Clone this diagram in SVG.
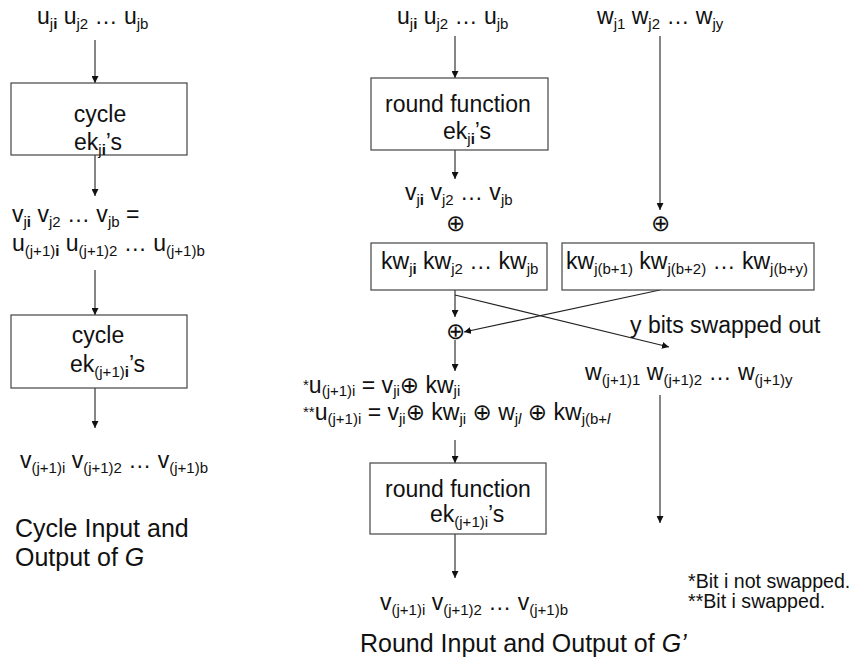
<svg xmlns="http://www.w3.org/2000/svg" width="856" height="662" viewBox="0 0 856 662">
  <style>
    text { font-family: "Liberation Sans", Arial, "DejaVu Sans", sans-serif; fill: #111; }
    .t { font-size: 23px; }
    .sb { font-size: 15px; }
    .b { font-weight: bold; }
    .it { font-style: italic; }
    .title { font-size: 25px; }
    .note { font-size: 19.6px; }
    .xor { font-family: "DejaVu Sans", sans-serif; font-size: 23px; font-weight: 200; }
    .box { fill: #fff; stroke: #444; stroke-width: 1.2; }
    .wire { stroke: #222; stroke-width: 1.1; fill: none; }
    .arr { marker-end: url(#head); }
  </style>
  <defs>
    <marker id="head" markerUnits="userSpaceOnUse" markerWidth="8" markerHeight="7" refX="7" refY="3.5" orient="auto">
      <path d="M0,0 L7,3.5 L0,7 z" fill="#111"/>
    </marker>
  </defs>
  <rect width="856" height="662" fill="#fff"/>

  <!-- connectors -->
  <g id="connectors">
    <!-- cycle column G -->
    <line class="wire arr" x1="95" y1="40" x2="95" y2="83"/>
    <line class="wire arr" x1="95" y1="155" x2="95" y2="196"/>
    <line class="wire arr" x1="95" y1="270" x2="95" y2="315"/>
    <line class="wire arr" x1="95" y1="388" x2="95" y2="428"/>
    <!-- round column G' -->
    <line class="wire arr" x1="455" y1="36" x2="455" y2="78"/>
    <line class="wire arr" x1="455" y1="150" x2="455" y2="179"/>
    <line class="wire arr" x1="660" y1="36" x2="660" y2="210"/>
    <line class="wire arr" x1="455" y1="290" x2="455" y2="317"/>
    <line class="wire arr" x1="455" y1="295" x2="669" y2="347"/>
    <line class="wire arr" x1="660" y1="290" x2="464" y2="332"/>
    <line class="wire arr" x1="455" y1="340" x2="455" y2="371"/>
    <line class="wire arr" x1="660" y1="395" x2="660" y2="523"/>
    <line class="wire arr" x1="455" y1="440" x2="455" y2="463"/>
    <line class="wire arr" x1="455" y1="534" x2="455" y2="578"/>
  </g>

  <!-- cycle of G -->
  <g id="g-input">
    <text class="t" x="37" y="24">u<tspan class="sb" dy="5">j<tspan class="b">i</tspan></tspan><tspan dy="-5"> u</tspan><tspan class="sb" dy="5">j2</tspan><tspan dy="-5"> … u</tspan><tspan class="sb" dy="5">jb</tspan></text>
  </g>
  <g id="g-cycle-1">
    <rect class="box" x="11" y="83" width="176" height="72"/>
    <text class="t" x="100" y="122" text-anchor="middle">cycle</text>
    <text class="t" x="74" y="150">ek<tspan class="sb" dy="5">j<tspan class="b">i</tspan></tspan><tspan dy="-5">’s</tspan></text>
  </g>
  <g id="g-mid">
    <text class="t" x="12" y="222">v<tspan class="sb" dy="5">j<tspan class="b">i</tspan></tspan><tspan dy="-5"> v</tspan><tspan class="sb" dy="5">j2</tspan><tspan dy="-5"> … v</tspan><tspan class="sb" dy="5">jb</tspan><tspan dy="-5"> =</tspan></text>
    <text class="t" x="12" y="251">u<tspan class="sb" dy="5">(j+1)<tspan class="b">i</tspan></tspan><tspan dy="-5"> u</tspan><tspan class="sb" dy="5">(j+1)2</tspan><tspan dy="-5"> … u</tspan><tspan class="sb" dy="5">(j+1)b</tspan></text>
  </g>
  <g id="g-cycle-2">
    <rect class="box" x="11" y="315" width="176" height="73"/>
    <text class="t" x="98" y="343" text-anchor="middle">cycle</text>
    <text class="t" x="70" y="372">ek<tspan class="sb" dy="5">(j+1)<tspan class="b">i</tspan></tspan><tspan dy="-5">’s</tspan></text>
  </g>
  <g id="g-output">
    <text class="t" x="20" y="468">v<tspan class="sb" dy="5">(j+1)i</tspan><tspan dy="-5"> v</tspan><tspan class="sb" dy="5">(j+1)2</tspan><tspan dy="-5"> … v</tspan><tspan class="sb" dy="5">(j+1)b</tspan></text>
  </g>
  <g id="g-caption">
    <text class="title" x="15" y="537">Cycle Input and</text>
    <text class="title" x="15" y="566">Output of <tspan class="it">G</tspan></text>
  </g>

  <!-- round of G' -->
  <g id="r-input-u">
    <text class="t" x="397" y="24">u<tspan class="sb" dy="5">j<tspan class="b">i</tspan></tspan><tspan dy="-5"> u</tspan><tspan class="sb" dy="5">j2</tspan><tspan dy="-5"> … u</tspan><tspan class="sb" dy="5">jb</tspan></text>
  </g>
  <g id="r-input-w">
    <text class="t" x="597" y="24">w<tspan class="sb" dy="5">j1</tspan><tspan dy="-5"> w</tspan><tspan class="sb" dy="5">j2</tspan><tspan dy="-5"> … w</tspan><tspan class="sb" dy="5">jy</tspan></text>
  </g>
  <g id="r-round-1">
    <rect class="box" x="371" y="78" width="177" height="72"/>
    <text class="t" x="385" y="112">round function</text>
    <text class="t" x="443" y="139">ek<tspan class="sb" dy="5">j<tspan class="b">i</tspan></tspan><tspan dy="-5">’s</tspan></text>
  </g>
  <g id="r-v">
    <text class="t" x="405" y="200">v<tspan class="sb" dy="5">j<tspan class="b">i</tspan></tspan><tspan dy="-5"> v</tspan><tspan class="sb" dy="5">j2</tspan><tspan dy="-5"> … v</tspan><tspan class="sb" dy="5">jb</tspan></text>
  </g>
  <g id="r-xor-v">
    <text class="xor" x="455" y="231" text-anchor="middle">⊕</text>
  </g>
  <g id="r-xor-w">
    <text class="xor" x="660" y="231" text-anchor="middle">⊕</text>
  </g>
  <g id="r-kw-b">
    <rect class="box" x="371" y="243" width="176" height="47"/>
    <text class="t" x="381" y="269">kw<tspan class="sb" dy="5">j<tspan class="b">i</tspan></tspan><tspan dy="-5"> kw</tspan><tspan class="sb" dy="5">j2</tspan><tspan dy="-5"> … kw</tspan><tspan class="sb" dy="5">jb</tspan></text>
  </g>
  <g id="r-kw-y">
    <rect class="box" x="562" y="243" width="252" height="47"/>
    <text class="t" x="566" y="269">kw<tspan class="sb" dy="5">j(b+1)</tspan><tspan dy="-5"> kw</tspan><tspan class="sb" dy="5">j(b+2)</tspan><tspan dy="-5"> … kw</tspan><tspan class="sb" dy="5">j(b+y)</tspan></text>
  </g>
  <g id="r-xor-mix">
    <text class="xor" x="455" y="339" text-anchor="middle">⊕</text>
  </g>
  <g id="r-swap-label">
    <text class="t" x="630" y="333">y bits swapped out</text>
  </g>
  <g id="r-w-next">
    <text class="t" x="585" y="380">w<tspan class="sb" dy="5">(j+1)1</tspan><tspan dy="-5"> w</tspan><tspan class="sb" dy="5">(j+1)2</tspan><tspan dy="-5"> … w</tspan><tspan class="sb" dy="5">(j+1)y</tspan></text>
  </g>
  <g id="r-equations">
    <text class="t" x="303" y="393"><tspan class="sb" dy="-3">*</tspan><tspan dy="3">u</tspan><tspan class="sb" dy="3">(j+1)i</tspan><tspan dy="-3"> = v</tspan><tspan class="sb" dy="3">ji</tspan><tspan dy="-3">⊕ kw</tspan><tspan class="sb" dy="3">ji</tspan></text>
    <text class="t" x="303" y="420"><tspan class="sb" dy="-3">**</tspan><tspan dy="3">u</tspan><tspan class="sb" dy="4">(j+1)i</tspan><tspan dy="-4"> = v</tspan><tspan class="sb" dy="4">ji</tspan><tspan dy="-4">⊕ kw</tspan><tspan class="sb" dy="4">ji</tspan><tspan dy="-4"> ⊕ w</tspan><tspan class="sb" dy="4">j<tspan class="it">l</tspan></tspan><tspan dy="-4"> ⊕ kw</tspan><tspan class="sb" dy="4">j(b+<tspan class="it">l</tspan></tspan></text>
  </g>
  <g id="r-round-2">
    <rect class="box" x="370" y="463" width="176" height="71"/>
    <text class="t" x="385" y="497">round function</text>
    <text class="t" x="430" y="522">ek<tspan class="sb" dy="5">(j+1)i</tspan><tspan dy="-5">’s</tspan></text>
  </g>
  <g id="r-output">
    <text class="t" x="380" y="610">v<tspan class="sb" dy="5">(j+1)i</tspan><tspan dy="-5"> v</tspan><tspan class="sb" dy="5">(j+1)2</tspan><tspan dy="-5"> … v</tspan><tspan class="sb" dy="5">(j+1)b</tspan></text>
  </g>
  <g id="r-notes">
    <text class="note" x="688" y="588">*Bit i not swapped.</text>
    <text class="note" x="688" y="608">**Bit i swapped.</text>
  </g>
  <g id="r-caption">
    <text class="title" x="360" y="652">Round Input and Output of <tspan class="it">G’</tspan></text>
  </g>
</svg>
